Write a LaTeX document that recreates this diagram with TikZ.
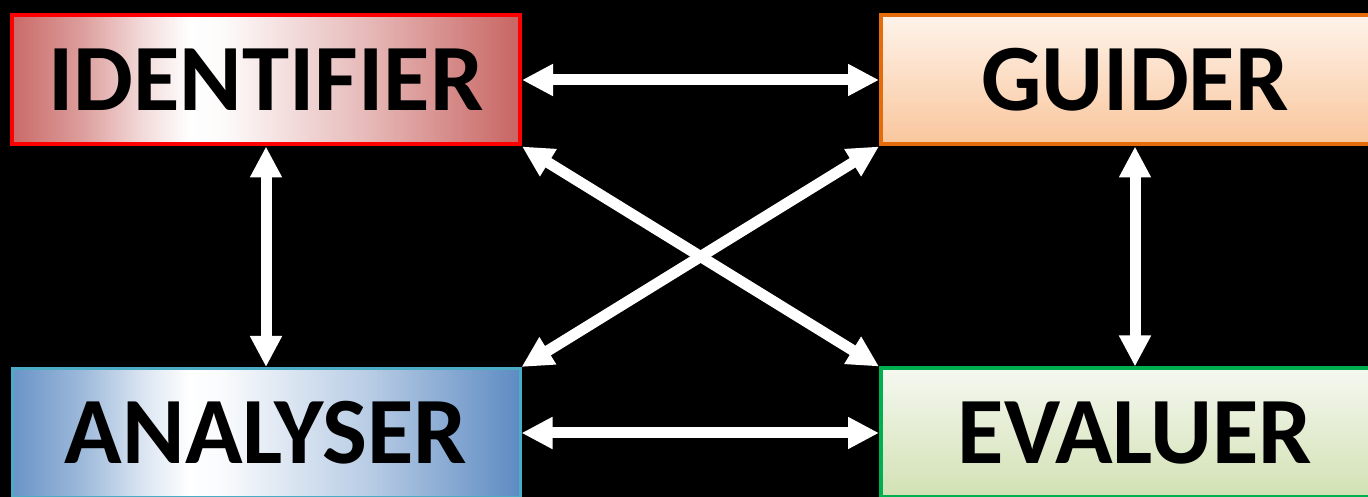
\documentclass[tikz,border=0pt]{standalone}
\usepackage{fontspec}
\setmainfont{Carlito}
\usetikzlibrary{arrows.meta}
\definecolor{idedge}{HTML}{C0504D}
\definecolor{idline}{HTML}{FF0000}
\definecolor{gutop}{HTML}{FEF3EA}
\definecolor{gubot}{HTML}{F9C69C}
\definecolor{guline}{HTML}{E46C0A}
\definecolor{anedge}{HTML}{4F81BD}
\definecolor{anline}{HTML}{4BACC6}
\definecolor{evtop}{HTML}{F5F8F0}
\definecolor{evbot}{HTML}{D2E1B3}
\definecolor{evline}{HTML}{00B050}
\pgfdeclarehorizontalshading{idshade}{100bp}{color(0bp)=(idedge!85); color(25bp)=(idedge!85); color(32bp)=(idedge!55); color(38bp)=(idedge!20); color(42.5bp)=(white); color(46bp)=(white!97!idedge); color(60bp)=(idedge!40); color(75bp)=(idedge!88); color(100bp)=(idedge!88)}
\pgfdeclarehorizontalshading{anshade}{100bp}{color(0bp)=(anedge!85); color(25bp)=(anedge!85); color(32bp)=(anedge!55); color(38bp)=(anedge!20); color(42.5bp)=(white); color(46bp)=(white!96!anedge); color(60bp)=(anedge!40); color(75bp)=(anedge!92); color(100bp)=(anedge!92)}
\tikzset{
  box/.style={rectangle, minimum width=508pt, minimum height=129pt, inner sep=0pt,
    font=\fontsize{95}{100}\selectfont\bfseries, text=black},
  link/.style={draw=white, line width=11pt,
    {Triangle[length=31pt,width=30pt]}-{Triangle[length=31pt,width=30pt]}}
}
\begin{document}
\begin{tikzpicture}[x=1pt,y=1pt]
\useasboundingbox (0,0) rectangle (1368,497);
\fill[black] (0,0) rectangle (1368,497);
\clip (0,0) rectangle (1368,497);
\node[box, draw=idline, line width=4pt, shade, shading=idshade] (id) at (266,417) {IDENTIFIER};
\node[box, draw=guline, line width=4pt, top color=gutop, bottom color=gubot] (gu) at (1135,417) {GUIDER};
\node[box, draw=anline, line width=3pt, shade, shading=anshade] (an) at (266,64) {ANALYSER};
\node[box, draw=evline, line width=4pt, top color=evtop, bottom color=evbot] (ev) at (1135,64) {EVALUER};
\draw[link] (id.east) -- (gu.west);
\draw[link] (an.east) -- (ev.west);
\draw[link] (id.south) -- (an.north);
\draw[link] (gu.south) -- (ev.north);
\draw[link] (id.south east) -- (ev.north west);
\draw[link] (gu.south west) -- (an.north east);
\end{tikzpicture}
\end{document}
